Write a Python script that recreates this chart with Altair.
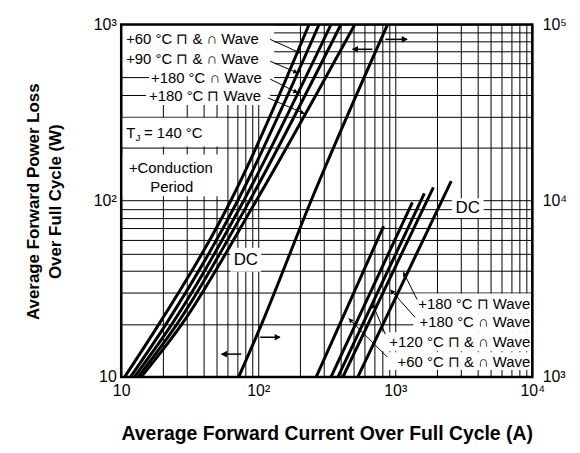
import math
import altair as alt
import pandas as pd

# ---------------- data ----------------
# Left family (left axis, W) -- power levels at which currents were read
power_left = [10, 20, 100, 1000]
cur_60 = [10.6, 18.9, 63.0, 235]
cur_90 = [11.7, 21.3, 70.8, 278]
cur_180_sine = [12.5, 23.5, 78.3, 340]
cur_180_rect = [13.3, 25.6, 86.5, 401]
cur_dc = [14.0, 27.8, 96.7, 507]

# Axis-divider curve (with the arrows)
divider_power = [10, 20, 100, 1000]
divider_cur = [72, 106, 243, 879]

# Right family (right axis, W)
r60_cur = [265, 498, 822]
r60_pow = [1000, 3000, 7180]
r120_cur = [340, 656, 1334]
r120_pow = [1000, 3000, 9800]
r180s_cur = [382, 741, 1630]
r180s_pow = [1000, 3000, 11000]
r180r_cur = [415, 813, 1897]
r180r_pow = [1000, 3000, 11900]
rdc_cur = [533, 1046, 2560]
rdc_pow = [1000, 3000, 12900]

x_grid = [m * 10 ** e for e in (1, 2, 3) for m in range(1, 10)] + [10000]
y_grid = [m * 10 ** e for e in (1, 2) for m in range(1, 10)] + [1000]
x_tick_labels = {10: "10", 100: "10²", 1000: "10³", 10000: "10⁴"}
yl_tick_labels = {10: "10", 100: "10²", 1000: "10³"}
yr_tick_labels = {1000: "10³", 10000: "10⁴", 100000: "10⁵"}


def label_expr(d):
    s = "''"
    for k, v in sorted(d.items(), reverse=True):
        s = f"datum.value == {k} ? '{v}' : ({s})"
    return s


rows = []
for name, cur in [("+60", cur_60), ("+90", cur_90), ("+180s", cur_180_sine),
                  ("+180r", cur_180_rect), ("DC", cur_dc), ("div", divider_cur)]:
    pw = divider_power if name == "div" else power_left
    for i, (c, p) in enumerate(zip(cur, pw)):
        rows.append({"series": name, "current": c, "power": p, "idx": i})
df_left = pd.DataFrame(rows)

rows = []
for name, cur, pw in [("r60", r60_cur, r60_pow), ("r120", r120_cur, r120_pow),
                      ("r180s", r180s_cur, r180s_pow), ("r180r", r180r_cur, r180r_pow),
                      ("rdc", rdc_cur, rdc_pow)]:
    for i, (c, p) in enumerate(zip(cur, pw)):
        rows.append({"series": name, "current": c, "power": p, "idx": i})
df_right = pd.DataFrame(rows)

W, H = 414, 355
FONT = "Liberation Sans"
one = pd.DataFrame({"a": [0]})

xscale = alt.Scale(type="log", domain=[10, 10000], nice=False)
x_axis = alt.Axis(values=x_grid, labelExpr=label_expr(x_tick_labels),
                  title="Average Forward Current Over Full Cycle (A)",
                  grid=True, ticks=False, domain=False, labelOverlap=False,
                  labelFlush=False, labelPadding=6, titleY=63,
                  titleBaseline="alphabetic", titleFontSize=19.5)

left_lines = alt.Chart(df_left).mark_line(color="black", strokeWidth=3, clip=True,
                                          interpolate="monotone").encode(
    x=alt.X("current:Q", scale=xscale, axis=x_axis),
    y=alt.Y("power:Q", scale=alt.Scale(type="log", domain=[10, 1000], nice=False),
            axis=alt.Axis(values=y_grid, labelExpr=label_expr(yl_tick_labels),
                          title=["Average Forward Power Loss", "Over Full Cycle (W)"],
                          orient="left", grid=True, ticks=False, domain=False,
                          labelOverlap=False, labelPadding=5, titleX=-88, titleY=178,
                          titleAngle=270, titleBaseline="middle", titleAlign="center",
                          titleLineHeight=22)),
    detail="series:N",
    order="idx:Q",
)

right_lines = alt.Chart(df_right).mark_line(color="black", strokeWidth=3, clip=True,
                                            interpolate="monotone").encode(
    x=alt.X("current:Q", scale=xscale, axis=x_axis),
    y=alt.Y("power:Q", scale=alt.Scale(type="log", domain=[1000, 100000], nice=False),
            axis=alt.Axis(values=[1000, 10000, 100000], labelExpr=label_expr(yr_tick_labels),
                          orient="right", grid=False, ticks=False, domain=False,
                          labelOverlap=False, labelPadding=10, title=None)),
    detail="series:N",
    order="idx:Q",
)


def box(x0, y0, x1, y1):
    return alt.Chart(one).mark_rect(color="white").encode(
        x=alt.value(x0), x2=alt.value(x1), y=alt.value(y0), y2=alt.value(y1))


def txt(s, x, y, align="left", size=15):
    return alt.Chart(one).mark_text(text=s, align=align, baseline="middle", font=FONT,
                                    fontSize=size, color="black").encode(
        x=alt.value(x), y=alt.value(y))


def leader(x0, y0, x1, y1, head=26, width=1):
    ang = math.degrees(math.atan2(y1 - y0, x1 - x0)) % 360
    r = alt.Chart(one).mark_rule(color="black", strokeWidth=width).encode(
        x=alt.value(x0), y=alt.value(y0), x2=alt.value(x1), y2=alt.value(y1))
    p = alt.Chart(one).mark_point(shape="triangle-right", filled=True, color="black",
                                  size=head, angle=ang, opacity=1).encode(
        x=alt.value(x1 - 2.5 * math.cos(math.radians(ang))),
        y=alt.value(y1 - 2.5 * math.sin(math.radians(ang))))
    return [r, p]


boxes = [
    box(0, 0, 154, 45), box(28, 45, 154, 63), box(25, 63, 150, 81),
    box(0, 94, 106, 123), box(0, 131, 100, 173),
    box(110, 225, 141, 249), box(333, 175, 365, 195),
    box(295, 271, 413, 291), box(294, 291, 413, 310),
    box(259, 310, 413, 329), box(266, 330, 413, 348),
]

texts = [
    txt("+60 °C ⊓ & ∩ Wave", 5, 15),
    txt("+90 °C ⊓ & ∩ Wave", 5, 35),
    txt("+180 °C ∩ Wave", 30, 54),
    txt("+180 °C ⊓ Wave", 28, 72),
    txt("T", 5, 109),
    txt("J", 14.5, 114, size=10),
    txt("= 140 °C", 23, 109),
    txt("+Conduction", 50, 145, align="center"),
    txt("Period", 51, 164, align="center"),
    txt("DC", 125.5, 237, align="center", size=17),
    txt("DC", 349, 185, align="center", size=17),
    txt("+180 °C ⊓ Wave", 412, 282, align="right"),
    txt("+180 °C ∩ Wave", 412, 300, align="right"),
    txt("+120 °C ⊓ & ∩ Wave", 412, 320, align="right"),
    txt("+60 °C ⊓ & ∩ Wave", 412, 340, align="right"),
]

leaders = []
for seg in [(150, 15, 181, 29), (150, 37, 178, 49), (150, 55, 178, 69), (148, 74, 185, 90),
            (298, 277, 284, 249), (296, 295, 271, 267), (266, 312, 253, 281),
            (268, 335, 229, 296)]:
    leaders += leader(*seg)

for seg in [(121, 332, 101, 332), (140, 315, 160, 315), (253, 25, 233, 25), (266, 15, 288, 15)]:
    leaders += leader(*seg, head=45, width=1.5)

border = alt.Chart(one).mark_rect(filled=False, color="black", strokeWidth=2.5).encode(
    x=alt.value(0), x2=alt.value(W), y=alt.value(0), y2=alt.value(H))

chart = alt.layer(
    *boxes, left_lines, right_lines, *leaders, *texts, border
).resolve_scale(y="independent").properties(
    width=W, height=H,
    padding={"left": 114, "top": 15, "right": 40, "bottom": 76},
    autosize=alt.AutoSizeParams(type="none"),
    background="white",
).configure_view(stroke=None).configure_axis(
    labelFont=FONT, labelFontSize=16, labelColor="black",
    titleFont=FONT, titleFontSize=17, titleFontWeight="bold", titleColor="black",
    gridColor="black", gridWidth=1, gridOpacity=1,
)

chart.save("out.html", embed_options={"renderer": "svg", "actions": False})
